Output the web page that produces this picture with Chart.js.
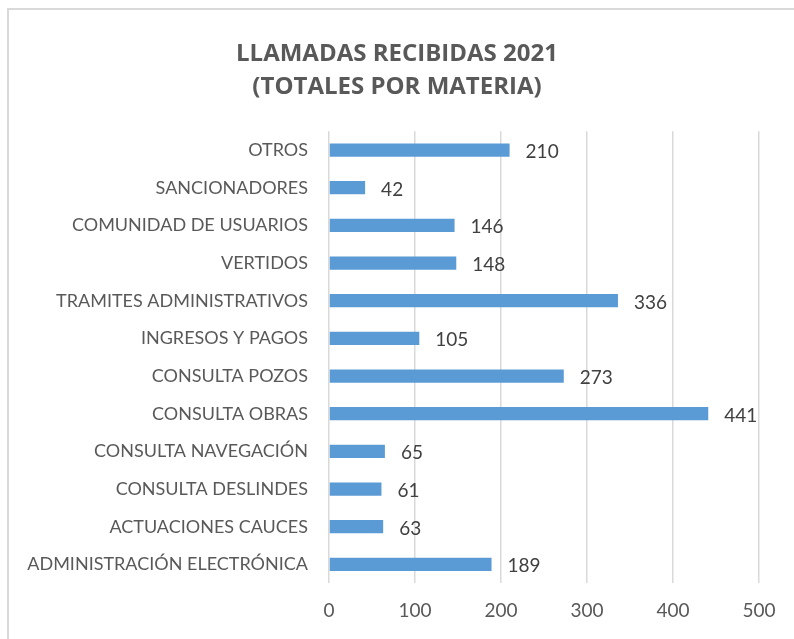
<!DOCTYPE html>
<html>
<head>
<meta charset="utf-8">
<script src="https://cdn.jsdelivr.net/npm/chart.js@4/dist/chart.umd.min.js"></script>
<style>
html,body{margin:0;padding:0;background:#fff;overflow:hidden;width:794px;height:639px;}
#frame{position:absolute;left:7px;top:8px;width:820px;height:700px;border:2px solid #d9d9d9;box-sizing:border-box;}
#wrap{position:absolute;left:0;top:0;width:794px;height:639px;}
</style>
</head>
<body>
<div id="frame"></div>
<div id="wrap"><canvas id="c" width="794" height="639"></canvas></div>
<script>
const categories = [
  "OTROS",
  "SANCIONADORES",
  "COMUNIDAD DE USUARIOS",
  "VERTIDOS",
  "TRAMITES ADMINISTRATIVOS",
  "INGRESOS Y PAGOS",
  "CONSULTA POZOS",
  "CONSULTA OBRAS",
  "CONSULTA NAVEGACIÓN",
  "CONSULTA DESLINDES",
  "ACTUACIONES CAUCES",
  "ADMINISTRACIÓN ELECTRÓNICA"
];
const llamadas = [210, 42, 146, 148, 336, 105, 273, 441, 65, 61, 63, 189];
const xTicks = [0, 100, 200, 300, 400, 500];
const titleLines = ["LLAMADAS RECIBIDAS 2021", "(TOTALES POR MATERIA)"];

const labelFont = "'Lato', 'Noto Sans', sans-serif";

const valueLabels = {
  id: 'valueLabels',
  afterDatasetsDraw(chart) {
    const ctx = chart.ctx;
    const meta = chart.getDatasetMeta(0);
    ctx.save();
    ctx.font = "19px " + labelFont;
    ctx.fillStyle = '#404040';
    ctx.textAlign = 'left';
    ctx.textBaseline = 'middle';
    meta.data.forEach((bar, i) => {
      ctx.fillText(String(chart.data.datasets[0].data[i]), bar.x + 16, bar.y + 2);
    });
    ctx.restore();
  }
};

// center the title on the whole canvas rather than on the padded box
const centerTitle = {
  id: 'centerTitle',
  afterLayout(chart) {
    const t = chart.titleBlock;
    if (t) { t.left = 0; t.right = chart.width; t.width = chart.width; }
  }
};

new Chart(document.getElementById('c'), {
  type: 'bar',
  data: {
    labels: categories,
    datasets: [{
      data: llamadas,
      backgroundColor: '#5b9bd5',
      borderWidth: 0,
      barPercentage: 0.7,
      categoryPercentage: 0.5
    }]
  },
  options: {
    indexAxis: 'y',
    responsive: false,
    animation: false,
    devicePixelRatio: 1,
    layout: { padding: { left: 20, right: 35, top: 0, bottom: 1 } },
    plugins: {
      legend: { display: false },
      tooltip: { enabled: false },
      title: {
        display: true,
        text: titleLines,
        color: '#595959',
        font: { family: "'Liberation Sans Narrow', 'Open Sans', sans-serif", size: 24, weight: 'bold', lineHeight: 1.4 },
        padding: { top: 37, bottom: 27 }
      }
    },
    scales: {
      x: {
        min: 0,
        max: 500,
        afterBuildTicks(scale) { scale.ticks = xTicks.map(v => ({ value: v })); },
        grid: { color: '#d9d9d9', lineWidth: 1.5, drawTicks: false },
        border: { display: false },
        ticks: { color: '#595959', font: { family: labelFont, size: 19 }, padding: 16 }
      },
      y: {
        grid: { display: false, drawTicks: false },
        border: { display: false },
        ticks: { color: '#595959', font: { family: labelFont, size: 18 }, padding: 21, autoSkip: false },
        afterFit(scale) { scale.width = 309; }
      }
    }
  },
  plugins: [valueLabels, centerTitle]
});
</script>
</body>
</html>
